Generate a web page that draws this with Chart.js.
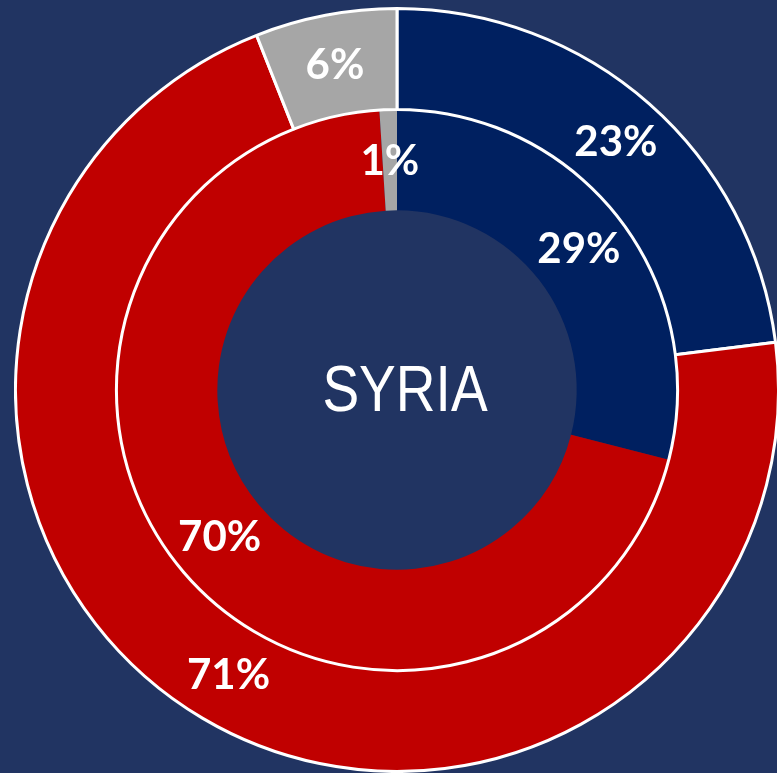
<!DOCTYPE html>
<html>
<head>
<meta charset="utf-8">
<script src="https://cdn.jsdelivr.net/npm/chart.js@4/dist/chart.umd.min.js"></script>
<style>
  html, body { margin: 0; padding: 0; background: #213462; overflow: hidden; width: 777px; height: 773px; }
  #chart { position: absolute; left: 14px; top: 7px; }
</style>
</head>
<body>
<canvas id="chart" width="766" height="766"></canvas>
<script>
// data
const categories = ['Group A', 'Group B', 'Other'];
const outerValues = [23, 71, 6];
const innerValues = [29, 70, 1];
const centerTitle = 'SYRIA';

const sliceColors = ['#002060', '#C00000', '#A6A6A6'];

// draws the % label on every arc and the title in the hole
const labelPlugin = {
    id: 'labels',
    afterDatasetsDraw(chart) {
        const ctx = chart.ctx;
        ctx.save();
        ctx.fillStyle = '#ffffff';
        ctx.textAlign = 'center';
        ctx.textBaseline = 'middle';
        ctx.font = 'bold 42px Lato';
        chart.data.datasets.forEach((ds, i) => {
            chart.getDatasetMeta(i).data.forEach((arc, j) => {
                const p = arc.tooltipPosition();
                ctx.fillText(ds.data[j] + '%', p.x, p.y + 1);
            });
        });
        // centre title
        const arc0 = chart.getDatasetMeta(0).data[0];
        ctx.font = '64px "Liberation Sans", Arial, sans-serif';
        ctx.translate(arc0.x + 8, arc0.y + 3);
        ctx.scale(0.86, 1);
        ctx.fillText(centerTitle, 0, 0);
        ctx.restore();
    }
};

const ctx = document.getElementById('chart').getContext('2d');
const chart = new Chart(ctx, {
    type: 'doughnut',
    data: {
        labels: categories,
        datasets: [
            {
                data: outerValues,
                backgroundColor: sliceColors,
                borderColor: '#ffffff',
                borderWidth: 3
            },
            {
                data: innerValues,
                backgroundColor: sliceColors,
                borderWidth: 0
            }
        ]
    },
    options: {
        responsive: false,
        animation: false,
        cutout: '47.1%',
        layout: { padding: 0 },
        plugins: {
            legend: { display: false },
            tooltip: { enabled: false }
        }
    },
    plugins: [labelPlugin]
});
</script>
</body>
</html>
